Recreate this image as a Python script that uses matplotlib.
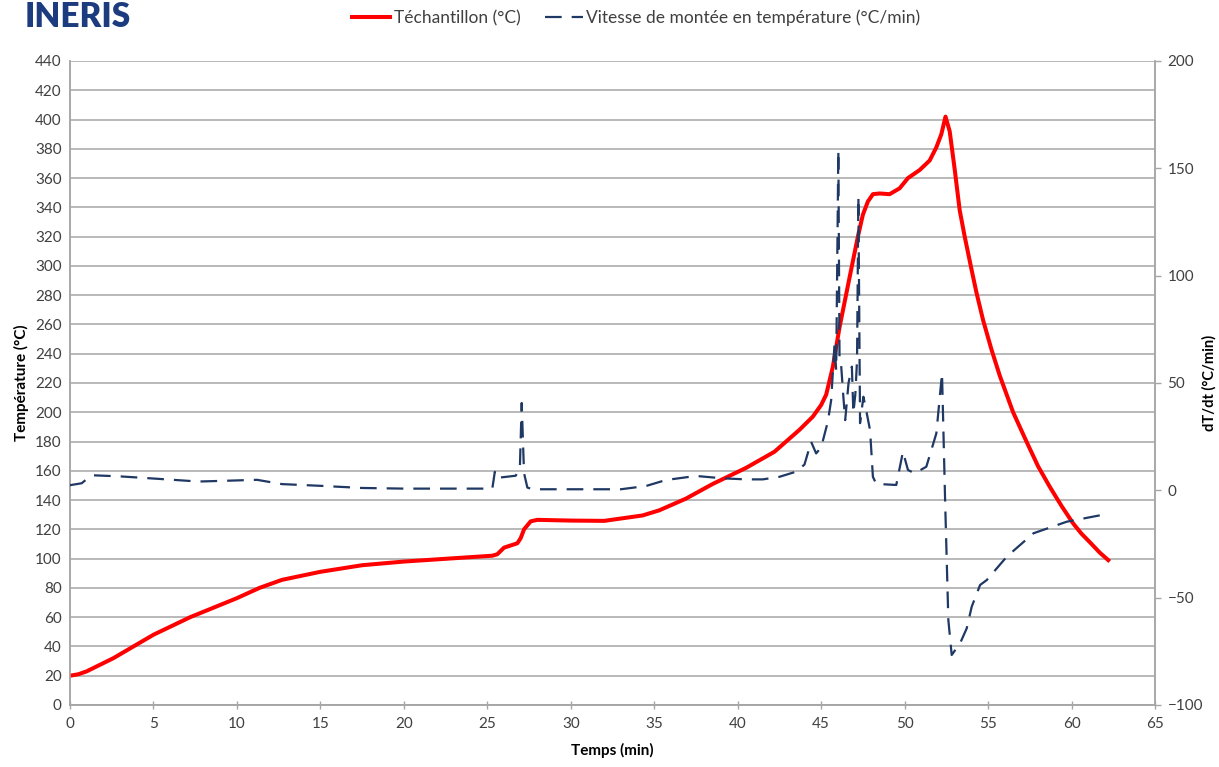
import matplotlib
matplotlib.use("Agg")
import matplotlib.pyplot as plt
from matplotlib.lines import Line2D

plt.rcParams['font.family'] = ['Lato', 'DejaVu Sans']

# Température de l'échantillon (°C) vs temps (min)
t_temp = [0, 0.5, 1.0, 2.6, 5.0, 7.2, 10.0, 11.35, 12.7, 15.0, 17.5, 20.0, 23.3, 25.3,
          25.6, 26.0, 26.8, 27.0, 27.2, 27.6, 28.0, 30.0, 32.0, 34.3, 35.3, 36.9,
          38.5, 40.5, 42.2, 43.7, 44.5, 45.0, 45.3, 45.7, 46.1, 46.7, 47.2, 47.5,
          47.8, 48.1, 48.5, 49.1, 49.7, 50.2, 50.9, 51.5, 51.9, 52.2, 52.45, 52.7,
          53.0, 53.3, 53.6, 54.0, 54.3, 54.7, 55.2, 55.7, 56.5, 57.3, 58.0, 58.7,
          59.4, 60.1, 60.6, 61.2, 61.7, 62.2]
temp = [20, 21, 23, 32, 48, 60, 73, 80, 85.5, 91, 95.5, 98, 100.5, 102,
        103, 107.5, 110.5, 114, 120, 125.5, 126.5, 126, 125.8, 129.5, 133, 141,
        151, 162, 173, 188, 197, 205, 212, 231, 258, 292, 320, 335,
        344, 349, 349.5, 349, 353, 360, 365.5, 372, 381, 390, 402, 392,
        366, 338, 320, 298, 282, 263, 243, 225, 200, 180, 163, 149,
        136, 124, 117, 110, 104, 99]

# Vitesse de montée en température (°C/min)
t_rate = [0, 0.7, 1.0, 1.4, 3.0, 5.0, 7.7, 9.5, 11.2, 12.7, 15.0, 17.5, 20.0,
          25.3, 25.45, 25.55, 25.8, 26.7, 26.95, 27.06, 27.2, 27.4, 27.7, 30.0,
          33.0, 34.5, 35.7, 37.5, 39.1, 40.5, 41.5, 42.5, 43.5, 44.0, 44.4, 44.7,
          45.0, 45.4, 45.6, 45.8, 45.9, 46.03, 46.1, 46.2, 46.33, 46.44, 46.64,
          46.84, 46.93, 47.05, 47.15, 47.23, 47.33, 47.53, 47.73, 47.93, 48.1,
          48.3, 49.5, 49.9, 50.2, 50.6, 51.3, 51.9, 52.24, 52.43, 52.62, 52.82,
          53.32, 53.72, 54.02, 54.52, 54.92, 56.12, 57.72, 59.72, 62.0]
rate = [2.4, 3.3, 5.2, 7, 6.5, 5.5, 4.1, 4.5, 4.9, 2.9, 2.1, 1.1, 0.8,
        0.8, 8.6, 5.8, 6.0, 6.8, 10, 40.7, 8, 1.3, 0.5, 0.5,
        0.5, 2, 4.8, 6.7, 5.6, 5.1, 5.1, 6.3, 8.7, 12, 22.6, 17.2,
        20, 32, 42, 68, 56, 158.5, 62, 58, 43.6, 32.7, 50,
        57.6, 36, 45, 60.7, 136.8, 31.3, 43.6, 36, 28, 6.3,
        3, 2.5, 18, 9.5, 7.9, 11, 26.5, 54.5, -6, -60.4, -76.7,
        -71.3, -64.3, -54.2, -44.1, -41.8, -30.9, -20, -14.6, -11.2]

x_ticks = list(range(0, 66, 5))
y_ticks = list(range(0, 441, 20))
y2_ticks = [-100, -50, 0, 50, 100, 150, 200]

RED = "#FF0000"
BLUE = "#1F3864"
GRID = "#A6A6A6"
TXT = "#404040"

fig = plt.figure(figsize=(12.19, 7.67), dpi=100)
ax = fig.add_axes([70 / 1219, 1 - 705 / 767, 1085 / 1219, 644 / 767])
ax2 = ax.twinx()

ax.plot(t_temp, temp, color=RED, lw=2.9, solid_joinstyle='round', zorder=3)
ax2.plot(t_rate, rate, color=BLUE, lw=1.6, dashes=(7.5, 4.5), zorder=3)

ax.set_xlim(0, 65)
ax.set_ylim(0, 440)
ax2.set_ylim(-100, 200)
ax.set_xticks(x_ticks)
ax.set_yticks(y_ticks)
ax2.set_yticks(y2_ticks)

ax.yaxis.grid(True, color=GRID, lw=1.1)
ax.set_axisbelow(True)

for a in (ax, ax2):
    a.spines['top'].set_visible(False)
    for s in ('left', 'right', 'bottom'):
        a.spines[s].set_color(GRID)
        a.spines[s].set_linewidth(1.1)
    a.tick_params(colors=GRID, labelcolor=TXT, labelsize=11, length=4, width=1)

ax.tick_params(axis='x', direction='inout', length=6, pad=6)
ax.tick_params(axis='y', length=0, pad=6)
ax2.tick_params(axis='y', direction='out', length=4, pad=5)

ax.set_xlabel("Temps (min)", fontsize=11, fontweight='bold', color='black', labelpad=8)
ax.set_ylabel("Température (°C)", fontsize=11, fontweight='bold', color='black', labelpad=4)
ax2.set_ylabel("dT/dt (°C/min)", fontsize=10.5, fontweight='bold', color='black', labelpad=-1)

handles = [Line2D([], [], color=RED, lw=2.9),
           Line2D([], [], color=BLUE, lw=1.6, dashes=(7.5, 4.5))]
fig.legend(handles, ["Téchantillon (°C)", "Vitesse de montée en température (°C/min)"],
           loc='upper center', bbox_to_anchor=(0.522, 1.008), ncol=2, frameon=False,
           fontsize=12.5, handlelength=2.2, handletextpad=0.2, columnspacing=1.4,
           labelcolor=TXT)

# logo
fig.text(25 / 1219, 1.0 - 1 / 767, "INERIS", fontsize=24, fontweight='heavy',
         color="#1D3C7F", ha='left', va='top')

fig.savefig("out.png", dpi=100)
